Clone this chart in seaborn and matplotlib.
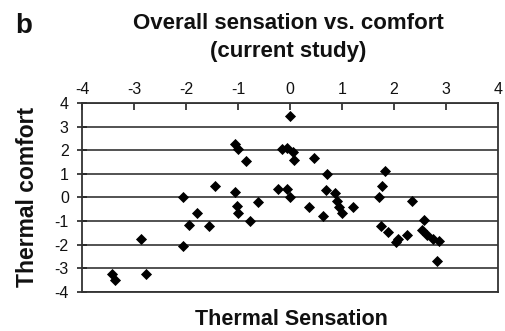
import matplotlib
matplotlib.use("Agg")
import matplotlib.pyplot as plt
import seaborn as sns
import pandas as pd

# Thermal sensation vote vs. thermal comfort vote
sensation = [-3.43, -3.37, -2.87, -2.76, -2.05, -2.05, -1.94, -1.78, -1.55, -1.44,
             -1.06, -1.00, -0.85, -1.06, -1.01, -0.99, -0.76, -0.61, -0.22, -0.06,
             0.00, 0.00, -0.16, -0.05, 0.05, 0.08, 0.46, 0.71, 0.37, 0.64,
             0.69, 0.87, 0.90, 0.95, 1.01, 1.22, 1.83, 1.78, 1.72, 1.76,
             1.88, 2.04, 2.08, 2.26, 2.34, 2.57, 2.54, 2.64, 2.76, 2.87, 2.82]
comfort = [-3.25, -3.50, -1.76, -3.25, 0.00, -2.05, -1.17, -0.67, -1.20, 0.48,
           2.25, 2.05, 1.55, 0.22, -0.36, -0.67, -1.00, -0.18, 0.36, 0.36,
           0.00, 3.45, 2.04, 2.08, 1.92, 1.60, 1.66, 1.00, -0.39, -0.80,
           0.32, 0.18, -0.15, -0.39, -0.64, -0.40, 1.14, 0.48, 0.00, -1.22,
           -1.45, -1.90, -1.75, -1.59, -0.14, -0.95, -1.38, -1.60, -1.75, -1.83, -2.70]

x_ticks = [-4, -3, -2, -1, 0, 1, 2, 3, 4]
y_ticks = [4, 3, 2, 1, 0, -1, -2, -3, -4]

df = pd.DataFrame({"Thermal Sensation": sensation, "Thermal comfort": comfort})

sns.set_theme(style="white")
plt.rcParams["font.family"] = ["Liberation Sans", "DejaVu Sans"]

fig = plt.figure(figsize=(5.06, 3.31), dpi=100)
ax = fig.add_axes([0.162, 0.118, 0.822, 0.571])

sns.scatterplot(data=df, x="Thermal Sensation", y="Thermal comfort", ax=ax,
                marker="D", s=32, color="black", edgecolor="black", linewidth=0,
                zorder=3)

ax.set_xlim(-4, 4)
ax.set_ylim(-4, 4)
ax.set_xticks(x_ticks)
ax.set_yticks(y_ticks)
ax.set_xticklabels([str(t) for t in x_ticks])
ax.set_yticklabels([str(t) for t in y_ticks])

ax.xaxis.tick_top()
ax.tick_params(axis="x", direction="in", length=5, width=1.2, color="#222222",
               labelsize=11.5, pad=4, top=True, bottom=False, labelcolor="#111111")
ax.tick_params(axis="y", direction="inout", length=7, width=1.2, color="#222222",
               labelsize=11.5, pad=6, left=True, labelcolor="#111111")

ax.yaxis.grid(True, color="#444444", linewidth=1.3)
ax.xaxis.grid(False)
ax.set_axisbelow(True)
for sp in ax.spines.values():
    sp.set_visible(True)
    sp.set_color("#333333")
    sp.set_linewidth(1.3)

ax.set_xlabel("")
ax.set_ylabel("")

fig.text(0.055, 0.405, "Thermal comfort", rotation=90, ha="center", va="center",
         fontsize=16.5, fontweight="bold", color="#111111")
fig.text(0.576, 0.036, "Thermal Sensation", ha="center", va="center",
         fontsize=15.5, fontweight="bold", color="#111111")
fig.text(0.569, 0.886, "Overall sensation vs. comfort\n(current study)",
         ha="center", va="center", fontsize=16, fontweight="bold",
         linespacing=1.45, color="#111111")
fig.text(0.047, 0.922, "b", ha="center", va="center", fontsize=20,
         fontweight="bold", color="#111111")

fig.savefig("out.png", dpi=100, facecolor="white")
